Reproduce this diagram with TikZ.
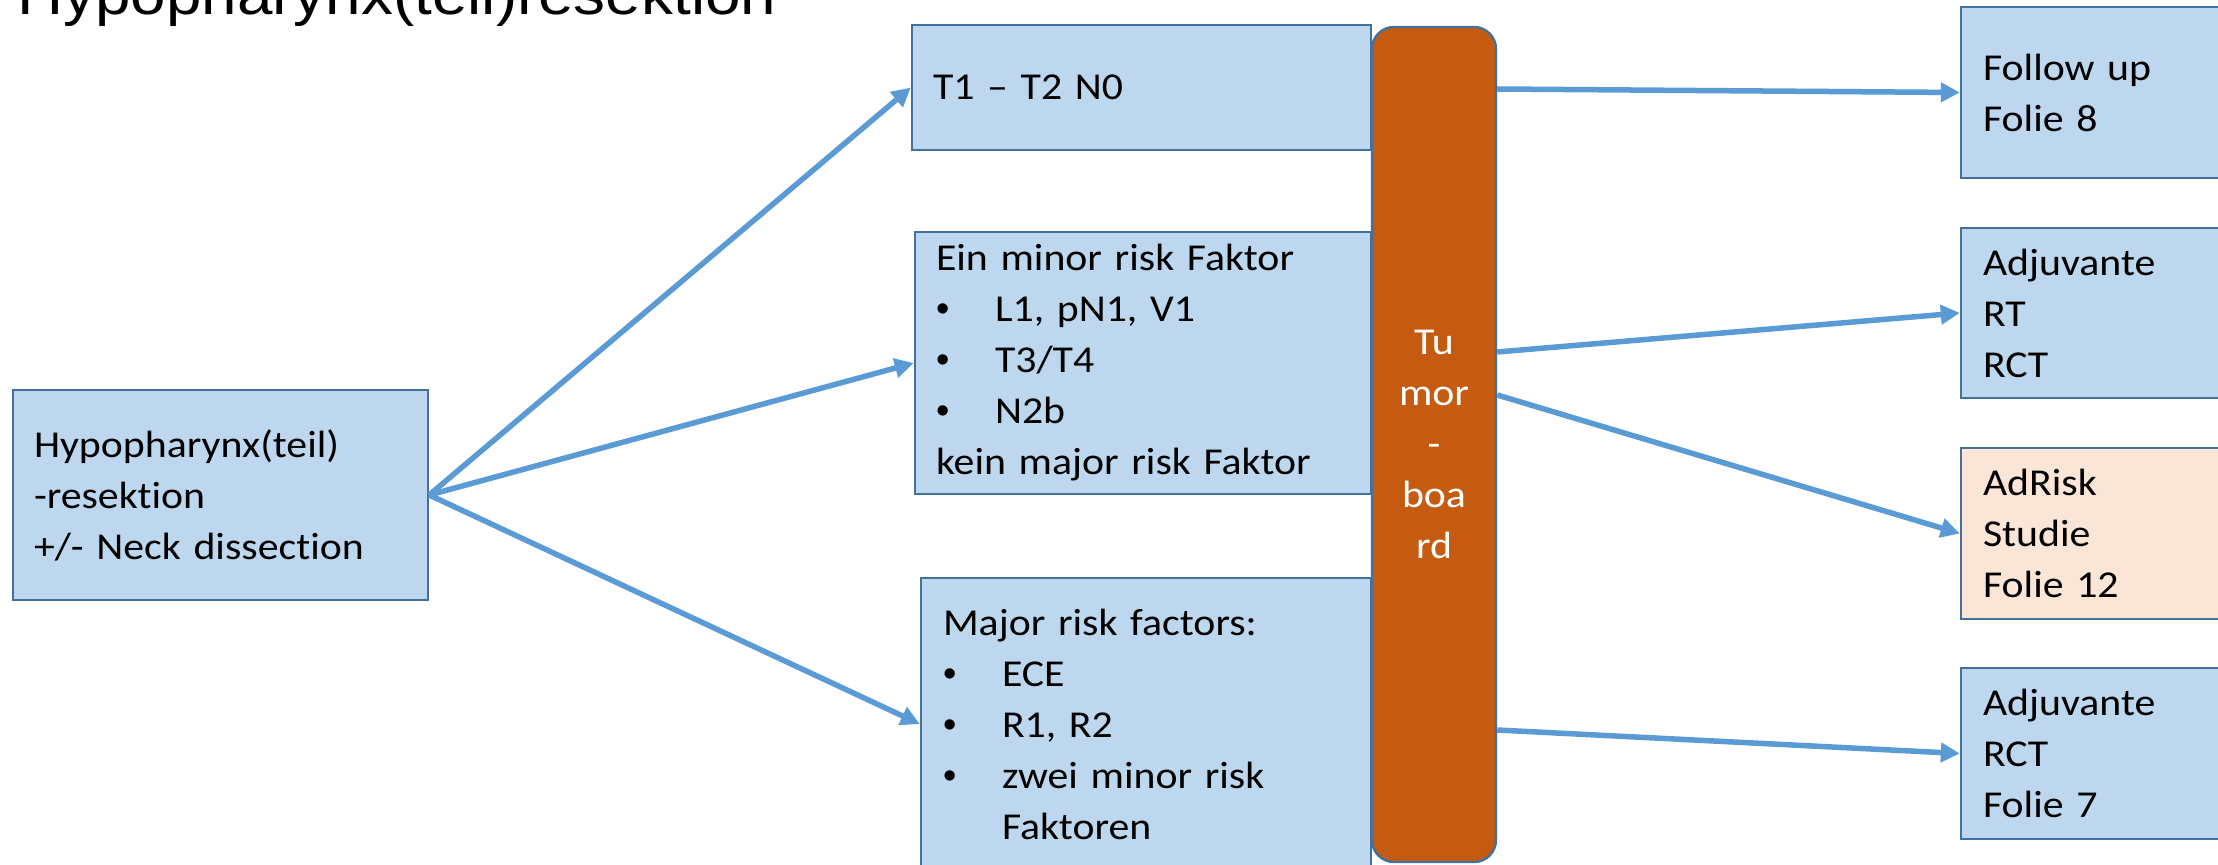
\documentclass[tikz,border=0pt]{standalone}
\usepackage{fontspec}
\setmainfont{Carlito}[FakeStretch=1.1, Ligatures=NoCommon]
\newfontfamily\titlefont{Liberation Sans}[FakeStretch=1.1]
\newfontfamily\bulletfont{Liberation Sans}
\usetikzlibrary{arrows.meta}

\definecolor{boxfill}{HTML}{BDD7EE}
\definecolor{boxline}{HTML}{41719C}
\definecolor{arrowblue}{HTML}{5B9BD5}
\definecolor{boardfill}{HTML}{C55A11}
\definecolor{peach}{HTML}{FBE5D6}

\newcommand\itemmark{\makebox[29.5pt][l]{{\bulletfont\textbullet}}}

\tikzset{
  box/.style={draw=boxline, line width=1.2pt, fill=boxfill, rectangle,
    inner xsep=10.5pt, inner ysep=0pt, align=left, text=black,
    font=\fontsize{19}{25.5}\selectfont},
  board/.style={draw=boxline, line width=1.2pt, fill=boardfill, rectangle,
    rounded corners=11pt, inner sep=0pt, align=center, text=white,
    font=\fontsize{19}{25.5}\selectfont},
  flow/.style={draw=arrowblue, line width=2.75pt,
    -{Triangle[length=9.5pt,width=9.5pt]}},
}

\begin{document}
\begin{tikzpicture}[x=0.5pt, y=-0.5pt]
  \useasboundingbox (0,0) rectangle (2218,865);
  \fill[white] (0,0) rectangle (2218,865);
  \clip (0,0) rectangle (2218,865);

  % heading
  \node[anchor=base west, inner sep=0pt, font=\titlefont\fontsize{29}{35}\selectfont]
    (title) at (17,15) {Hypopharynx(teil)resektion};

  % starting point
  \node[box, minimum width=207.5pt, text width=186.5pt, minimum height=105pt]
    (lb) at (220.5,495) {Hypopharynx(teil)\\-resektion\\+/- Neck dissection};

  % risk groups
  \node[box, minimum width=229.5pt, text width=208.5pt, minimum height=62.5pt]
    (t1) at (1141.5,87.5) {T1 – T2 N0};
  \node[box, minimum width=228pt, text width=207pt, minimum height=131pt]
    (mid) at (1143,363) {Ein minor risk Faktor\\
      \itemmark L1, pN1, V1\\
      \itemmark T3/T4\\
      \itemmark N2b\\
      kein major risk Faktor};
  \node[box, inner xsep=11pt, minimum width=225pt, text width=203pt, minimum height=146pt]
    (low) at (1146,724) {Major risk factors:\\
      \itemmark ECE\\
      \itemmark R1, R2\\
      \itemmark zwei minor risk\\
      \hspace*{29.5pt}Faktoren};

  % tumour board
  \node[board, minimum width=62pt, minimum height=417.5pt]
    (tb) at (1434,444.5) {Tu\\mor\\-\\boa\\rd};

  % outcomes
  \node[box, inner xsep=11pt, minimum width=230pt, text width=208pt, minimum height=85.5pt]
    (fu) at (2191,92.5) {Follow up\\Folie 8};
  \node[box, inner xsep=11pt, minimum width=230pt, text width=208pt, minimum height=85pt]
    (adj1) at (2191,313) {Adjuvante\\RT\\RCT};
  \node[box, fill=peach, inner xsep=11pt, minimum width=230pt, text width=208pt, minimum height=85.5pt]
    (adr) at (2191,533.5) {AdRisk\\Studie\\Folie 12};
  \node[box, inner xsep=11pt, minimum width=230pt, text width=208pt, minimum height=85.5pt]
    (adj2) at (2191,753.5) {Adjuvante\\RCT\\Folie 7};

  % connectors into the risk groups
  \draw[flow] (lb.east) -- (t1.west);
  \draw[flow] (lb.east) -- (mid.west);
  \draw[flow] (lb.east) -- (low.west);

  % connectors out of the tumour board
  \coordinate (o1) at (tb.east |- 0,89);
  \coordinate (o2) at (tb.east |- 0,352);
  \coordinate (o3) at (tb.east |- 0,395);
  \coordinate (o4) at (tb.east |- 0,730);
  \draw[flow] (o1) -- (fu.west);
  \draw[flow] (o2) -- (adj1.west);
  \draw[flow] (o3) -- (adr.west);
  \draw[flow] (o4) -- (adj2.west);
\end{tikzpicture}
\end{document}
